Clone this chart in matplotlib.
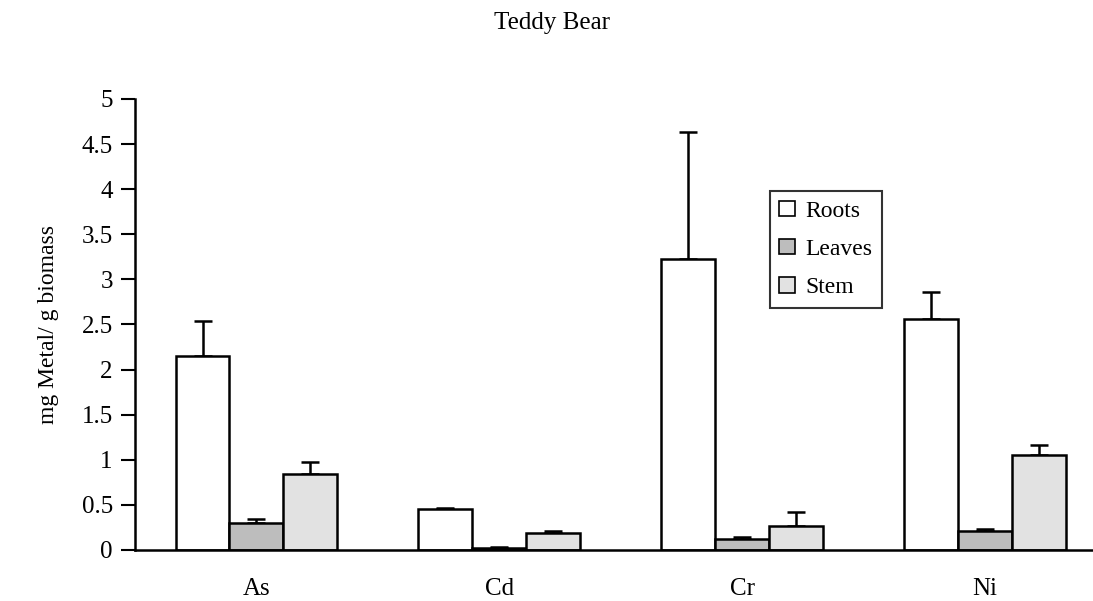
import numpy as np
import matplotlib
matplotlib.use("Agg")
import matplotlib.pyplot as plt

plt.rcParams['font.family'] = ['Liberation Serif', 'DejaVu Serif']

metals = ["As", "Cd", "Cr", "Ni"]
roots = [2.15, 0.45, 3.23, 2.56]
roots_err = [0.39, 0.02, 1.40, 0.30]
leaves = [0.30, 0.02, 0.12, 0.21]
leaves_err = [0.04, 0.01, 0.02, 0.02]
stem = [0.84, 0.19, 0.27, 1.05]
stem_err = [0.14, 0.02, 0.15, 0.11]

fig = plt.figure(figsize=(10.93, 6.01), dpi=100)
ax = fig.add_axes([0.1235, 0.0849, 0.889, 0.7504])

x = np.arange(len(metals))
w = 0.222
series = [(roots, roots_err, "white", "Roots"),
          (leaves, leaves_err, "#bdbdbd", "Leaves"),
          (stem, stem_err, "#e2e2e2", "Stem")]
for i, (vals, errs, col, lab) in enumerate(series):
    ax.bar(x + (i - 1) * w, vals, w, color=col, edgecolor="black", linewidth=1.8,
           label=lab, zorder=2)
    ax.errorbar(x + (i - 1) * w, vals, yerr=[np.zeros(len(errs)), errs], fmt="none",
                ecolor="black", elinewidth=1.8, capsize=6.5, capthick=1.8, zorder=1)

ax.set_xlim(-0.5, 3.5)
ax.set_ylim(0, 5)
ax.set_yticks(np.arange(0, 5.01, 0.5))
ax.set_yticklabels(["0", "0.5", "1", "1.5", "2", "2.5", "3", "3.5", "4", "4.5", "5"])
ax.set_xticks(x)
ax.set_xticklabels(metals)
ax.tick_params(axis="y", labelsize=18, length=10, width=1.5, pad=6)
ax.tick_params(axis="x", labelsize=18, length=0, pad=20)
for s in ["top", "right"]:
    ax.spines[s].set_visible(False)
ax.spines["left"].set_linewidth(1.8)
ax.spines["bottom"].set_linewidth(1.8)

ax.set_ylabel("mg Metal/ g biomass", fontsize=17, labelpad=16)
fig.text(0.505, 0.962, "Teddy Bear", ha="center", va="center", fontsize=18)

leg = ax.legend(loc="upper left", bbox_to_anchor=(0.7045, 0.682),
                bbox_transform=fig.transFigure, fontsize=17, frameon=True,
                fancybox=False, edgecolor="black", handlelength=0.65,
                handleheight=0.65, handletextpad=0.45, labelspacing=0.72,
                borderpad=0.4, borderaxespad=0)
leg.get_frame().set_linewidth(1.5)
for h in leg.legend_handles:
    h.set_linewidth(1.2)

fig.savefig("out.png", dpi=100)
